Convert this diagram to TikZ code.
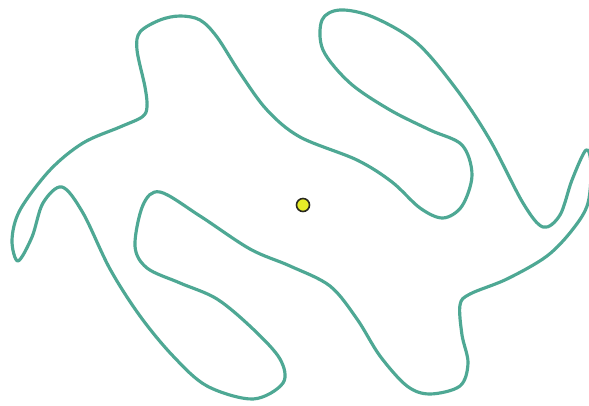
\documentclass[tikz,border=0pt]{standalone}
\usepackage{xcolor}
\usepackage{tikz}
\definecolor{myteal}{RGB}{78,168,148}
\definecolor{mydark}{RGB}{40,40,30}
\definecolor{myyellow}{RGB}{230,236,40}
\tikzset{
  outline/.style={draw=myteal, line width=1.8pt, line join=round},
  centre/.style={circle, draw=mydark, fill=myyellow, inner sep=0pt,
    minimum size=0.26cm, line width=0.9pt}
}
\begin{document}
\begin{tikzpicture}[x=0.02cm, y=-0.02cm]
  \useasboundingbox (0,0) rectangle (589,406);
  % Closed curve
  \draw[outline] plot[smooth cycle, tension=0.55] coordinates {
    (180,16) (200,20) (217,37) (240,73) (267,110) (300,137) (357,160)
    (392,182) (420,208) (443,218) (462,206) (472,175) (462,145)
    (430,130) (390,110) (350,83) (323,50) (322,20) (340,10) (373,17)
    (417,43) (457,90) (490,140) (523,203) (543,227) (560,215) (572,180)
    (586,150) (591,165) (588,203) (573,229) (547,256) (507,279) (470,294)
    (460,305) (462,335) (468,363) (460,386) (430,394) (407,386) (380,356)
    (357,319) (330,286) (290,266) (250,249) (200,216) (160,192) (143,205)
    (135,246) (147,268) (180,283) (217,299) (253,329) (280,359) (283,383)
    (253,399) (207,386) (173,356) (140,316) (110,269) (83,213) (62,187)
    (43,203) (32,237) (18,261) (12,240) (20,210) (50,170) (83,143)
    (120,127) (142,117) (147,107) (145,87) (137,50) (140,32) (160,20)};
  % Centre point
  \node[centre] (ctr) at (303,205) {};
\end{tikzpicture}
\end{document}
